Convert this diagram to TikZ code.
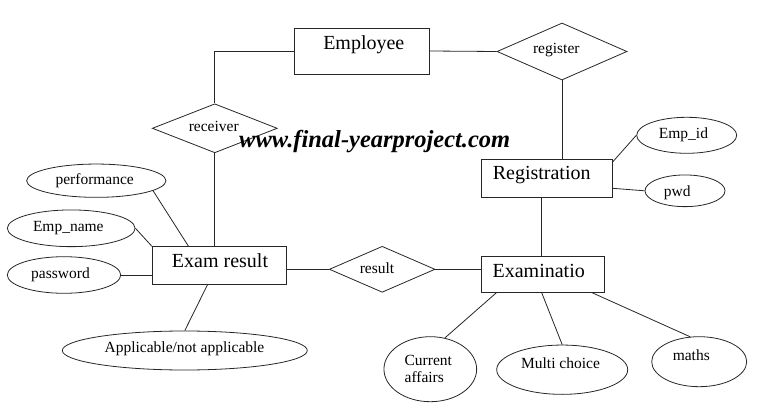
\documentclass[tikz,border=0pt]{standalone}
\usepackage{fontspec}
\newfontfamily\tnr{LiberationSerif}[Extension=.ttf, UprightFont=*-Regular, BoldFont=*-Bold, ItalicFont=*-Italic, BoldItalicFont=*-BoldItalic]
\usepackage{graphicx}
\usetikzlibrary{shapes.geometric}
\tikzset{
  ln/.style={draw=black!85, line width=0.8pt},
  ent/.style={draw=black!85, line width=0.8pt, rectangle, inner sep=0pt},
  rel/.style={draw=black!85, line width=0.8pt, diamond, inner sep=0pt, aspect=2.3},
  att/.style={draw=black!85, line width=0.8pt, ellipse, inner sep=0pt},
  bigt/.style={inner sep=0pt, font=\tnr\fontsize{20}{22}\selectfont, text height=0.7em, text depth=0.2em},
  smt/.style={inner sep=0pt, font=\tnr\fontsize{15.5}{17.7}\selectfont, text height=0.7em, text depth=0.2em},
}
\begin{document}
\begin{tikzpicture}[x=1pt,y=1pt]
\useasboundingbox (0,0) rectangle (760,410);
% entities
\node[ent, minimum width=135pt, minimum height=46pt] (emp) at (361.5,359) {};
\node[ent, minimum width=130.6pt, minimum height=38pt] (regbox) at (547,231.7) {};
\node[ent, minimum width=123.3pt, minimum height=36.3pt] (exambox) at (542.7,135.8) {};
\node[ent, minimum width=134.4pt, minimum height=37.6pt] (examres) at (219.5,144.5) {};
% relationships
\node[rel, minimum width=130pt, minimum height=57pt] (reg) at (562,358.5) {};
\node[rel, minimum width=125pt, minimum height=49pt] (recv) at (214.8,281.7) {};
\node[rel, minimum width=105.7pt, minimum height=46pt] (result) at (382.2,140.7) {};
% attributes
\node[att, minimum width=100pt, minimum height=36pt] (empid) at (686.7,274.7) {};
\node[att, minimum width=80pt, minimum height=31.7pt] (pwd) at (685,219.2) {};
\node[att, minimum width=139.3pt, minimum height=33.3pt] (perf) at (96.3,229.3) {};
\node[att, minimum width=127.7pt, minimum height=36.7pt] (ename) at (71.2,181.7) {};
\node[att, minimum width=113.4pt, minimum height=36.6pt] (pass) at (64,135) {};
\node[att, minimum width=245pt, minimum height=39pt] (appl) at (184.8,59.5) {};
\node[att, minimum width=92.7pt, minimum height=65pt] (cur) at (430.3,40.8) {};
\node[att, minimum width=131pt, minimum height=49.3pt] (multi) at (562.2,40.3) {};
\node[att, minimum width=95pt, minimum height=50pt] (maths) at (699.2,48.3) {};
% texts
\node[bigt] (empt) at (363.8,363) {Employee};
\node[bigt] (regboxt) at (541.7,233) {Registration};
\node[bigt] (examboxt) at (538.7,135) {Examinatio};
\node[bigt] (examrest) at (220,144.7) {Exam result};
\node[smt] (regt) at (556.3,358.5) {register};
\node[smt] (recvt) at (213.7,280.8) {receiver};
\node[smt] (resultt) at (377,139.5) {result};
\node[smt] (empidt) at (683.5,273.5) {Emp\_id};
\node[smt] (pwdt) at (677.3,215.8) {pwd};
\node[smt] (perft) at (94.7,227.8) {performance};
\node[smt] (enamet) at (68.3,180.8) {Emp\_name};
\node[smt] (passt) at (60.5,134.2) {password};
\node[smt] (applt) at (184.5,60.2) {Applicable/not applicable};
\node[inner sep=0pt, font=\tnr\fontsize{15.5}{17.7}\selectfont, align=left] (curt) at (428.3,41.2) {Current\\affairs};
\node[smt] (multit) at (560.5,44.5) {Multi choice};
\node[smt] (mathst) at (691.3,51.8) {maths};
% watermark
\node[anchor=base west, inner sep=0pt, font=\tnr\fontsize{20}{22}\selectfont\bfseries\itshape] (wm) at (239,262) {\resizebox{271pt}{!}{www.final-yearproject.com}};
% connectors
\draw[ln] (emp.west) -| (recv.north);
\draw[ln] (emp.east) -- (reg.west);
\draw[ln] (reg.south) -- (reg.south |- regbox.north);
\draw[ln] ([yshift=-3pt]regbox.north east) -- (empid.west);
\draw[ln] ([yshift=-10pt]regbox.east) -- (pwd.west);
\draw[ln] ([xshift=-1pt]exambox.north |- regbox.south) -- ([xshift=-1pt]exambox.north);
\draw[ln] ([xshift=15.7pt]exambox.south west) -- (cur.65);
\draw[ln] ([xshift=-1pt]exambox.south) -- (multi.north);
\draw[ln] ([xshift=-12.6pt]exambox.south east) -- (maths.110);
\draw[ln] (recv.south) -- (recv.south |- examres.north);
\draw[ln] (perf.-10) -- ([xshift=-31pt]examres.north);
\draw[ln] (ename.east) -- (examres.north west);
\draw[ln] (pass.east) -- (pass.east -| examres.west);
\draw[ln] ([xshift=-12pt]examres.south) -- (appl.north);
\draw[ln] (result.west) -- (result.west -| examres.east);
\draw[ln] (result.east) -- (result.east -| exambox.west);
\end{tikzpicture}
\end{document}
